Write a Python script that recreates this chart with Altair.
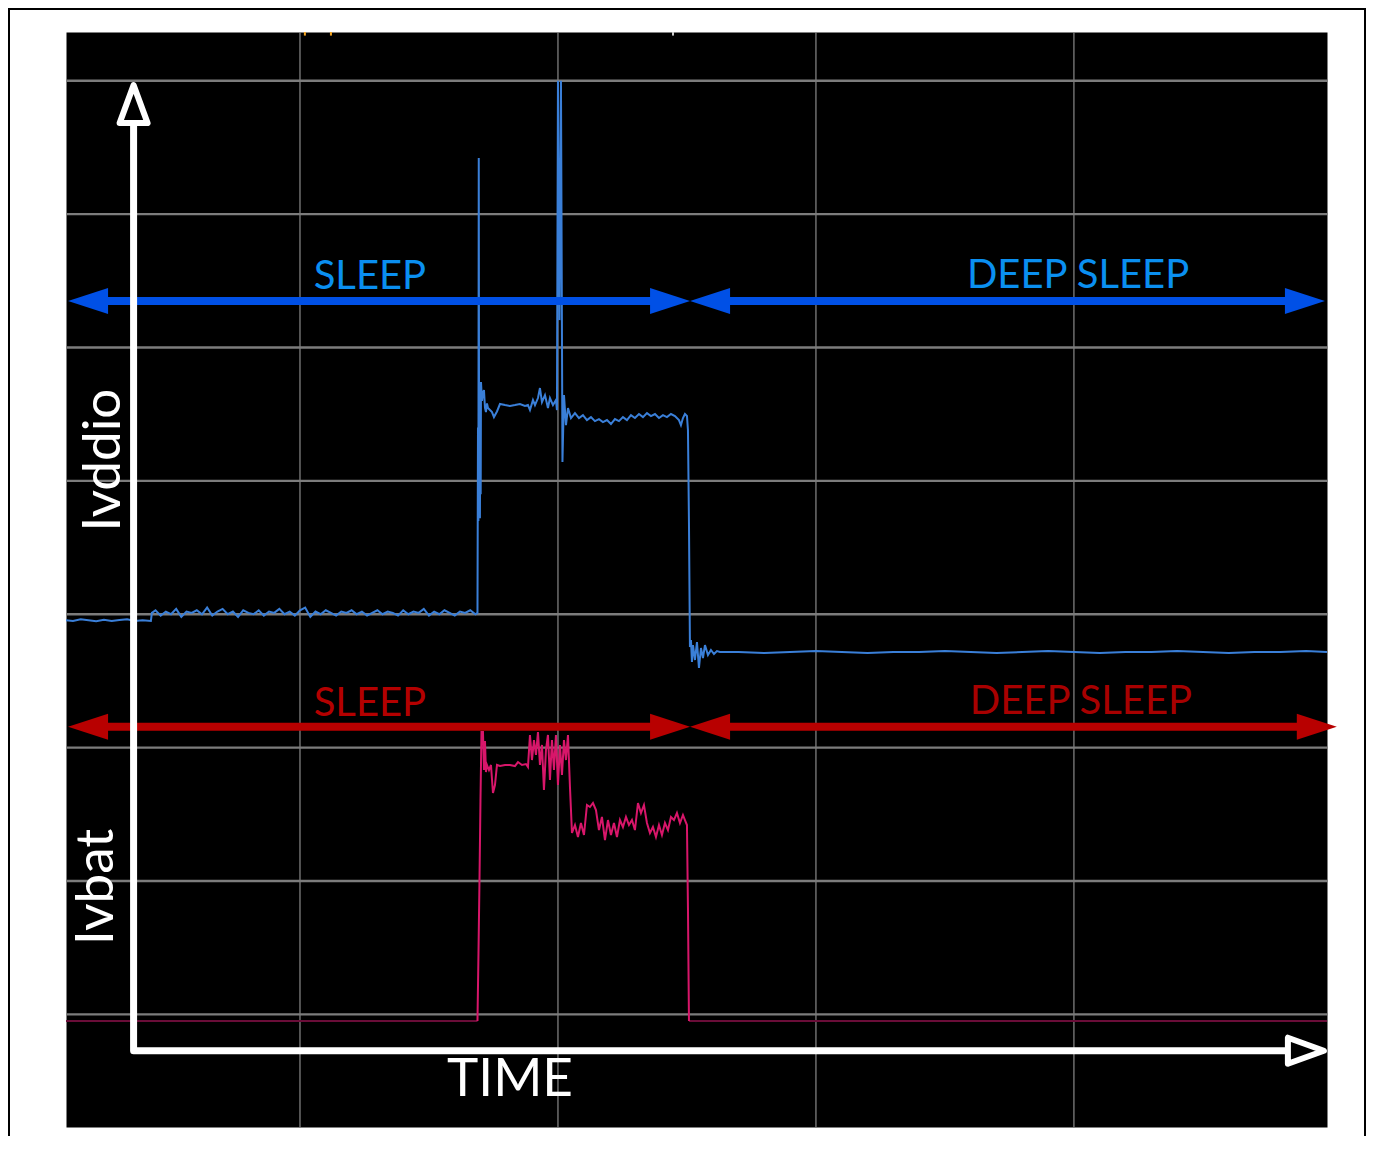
import altair as alt
import pandas as pd

# ---- oscilloscope frame: time and amplitude measured in screen divisions ----
x_domain = [-0.907, 3.981]
y_domain = [-0.844, 7.365]
grid_t = [0, 1, 2, 3]
grid_v = [0, 1, 2, 3, 4, 5, 6, 7]

# ---- Ivddio trace (t, v) ----
ivddio = [
    (-0.907, 2.955), (-0.880, 2.950), (-0.850, 2.962), (-0.820, 2.955), (-0.790, 2.948),
    (-0.760, 2.958), (-0.730, 2.950), (-0.700, 2.956), (-0.670, 2.962), (-0.640, 2.950),
    (-0.610, 2.955), (-0.578, 2.950), (-0.574, 3.010),
    (-0.56, 3.03), (-0.54, 2.99), (-0.52, 3.02), (-0.50, 3.00), (-0.48, 3.04), (-0.46, 2.98),
    (-0.44, 3.02), (-0.42, 3.01), (-0.40, 3.03), (-0.38, 3.00), (-0.36, 3.05), (-0.34, 2.99),
    (-0.32, 3.02), (-0.30, 3.04), (-0.28, 3.00), (-0.26, 3.02), (-0.24, 2.98), (-0.22, 3.03),
    (-0.20, 3.01), (-0.18, 3.00), (-0.16, 3.03), (-0.14, 2.99), (-0.12, 3.02), (-0.10, 3.01),
    (-0.08, 3.04), (-0.06, 3.00), (-0.04, 3.02), (-0.02, 2.99), (0.00, 3.03), (0.02, 3.05),
    (0.04, 2.98), (0.06, 3.02), (0.08, 3.00), (0.10, 3.03), (0.12, 3.01), (0.14, 2.99),
    (0.16, 3.02), (0.18, 3.01), (0.20, 3.03), (0.22, 3.00), (0.24, 3.02), (0.26, 2.99),
    (0.28, 3.01), (0.30, 3.03), (0.32, 3.00), (0.34, 3.02), (0.36, 3.01), (0.38, 2.99),
    (0.40, 3.03), (0.42, 3.00), (0.44, 3.02), (0.46, 3.01), (0.48, 3.04), (0.50, 2.99),
    (0.52, 3.02), (0.54, 3.00), (0.56, 3.03), (0.58, 3.01), (0.60, 2.99), (0.62, 3.02),
    (0.64, 3.01), (0.66, 3.03), (0.68, 3.00), (0.688, 3.01),
    (0.6900, 4.40), (0.6915, 3.70), (0.6930, 6.42), (0.6945, 3.75), (0.6960, 4.35),
    (0.6975, 3.72), (0.6990, 4.50), (0.7005, 3.90), (0.7016, 4.741), (0.7055, 4.60),
    (0.7093, 4.66), (0.7132, 4.68), (0.7170, 4.55), (0.7209, 4.516), (0.7248, 4.58),
    (0.7287, 4.546), (0.7364, 4.531), (0.7442, 4.516), (0.7519, 4.478), (0.7636, 4.52),
    (0.7752, 4.576), (0.7946, 4.568), (0.8140, 4.561), (0.8333, 4.568), (0.8527, 4.576),
    (0.8721, 4.561), (0.8837, 4.568), (0.8915, 4.531), (0.9031, 4.606), (0.9109, 4.568),
    (0.9225, 4.621), (0.9302, 4.696), (0.9380, 4.591), (0.9496, 4.643), (0.9612, 4.546),
    (0.9690, 4.621), (0.9806, 4.568), (0.9922, 4.606), (0.9961, 4.531),
    (1.0000, 7.0), (1.0058, 5.205), (1.0116, 7.0), (1.0174, 4.141), (1.0233, 4.643),
    (1.0310, 4.418), (1.0388, 4.546), (1.0504, 4.471), (1.0659, 4.508), (1.0814, 4.471),
    (1.0969, 4.493), (1.1124, 4.456), (1.1279, 4.478), (1.1434, 4.448), (1.1589, 4.463),
    (1.1744, 4.441), (1.1899, 4.456), (1.2054, 4.426), (1.2209, 4.463), (1.2364, 4.448),
    (1.2519, 4.478), (1.2674, 4.456), (1.2829, 4.493), (1.2984, 4.471), (1.3140, 4.501),
    (1.3295, 4.478), (1.3450, 4.508), (1.3605, 4.486), (1.3760, 4.501), (1.3915, 4.471),
    (1.4070, 4.493), (1.4225, 4.478), (1.4380, 4.501), (1.4535, 4.486), (1.4690, 4.456),
    (1.4767, 4.418), (1.4845, 4.471), (1.4922, 4.501), (1.5000, 4.486), (1.5039, 4.38),
    (1.5078, 3.684), (1.5116, 2.754), (1.5155, 2.807), (1.5194, 2.642), (1.5233, 2.769),
    (1.5310, 2.657), (1.5388, 2.792), (1.5465, 2.597), (1.5543, 2.747), (1.5620, 2.672),
    (1.5698, 2.769), (1.5814, 2.694), (1.5930, 2.732), (1.6047, 2.702), (1.6163, 2.724),
    (1.6279, 2.717), (1.70, 2.717), (1.80, 2.709), (1.90, 2.717), (2.00, 2.724),
    (2.10, 2.717), (2.20, 2.709), (2.30, 2.717), (2.40, 2.717), (2.50, 2.724), (2.60, 2.717),
    (2.70, 2.709), (2.80, 2.717), (2.90, 2.724), (3.00, 2.717), (3.10, 2.709), (3.20, 2.717),
    (3.30, 2.717), (3.40, 2.724), (3.50, 2.717), (3.60, 2.709), (3.70, 2.717), (3.80, 2.717),
    (3.90, 2.724), (3.981, 2.717),
]

# ---- Ivbat trace: active burst (t, v) and idle floor ----
ivbat_active = [
    (0.6880, -0.050), (0.6919, 0.460), (0.6957, 0.993), (0.6996, 1.60), (0.7035, 2.117),
    (0.7093, 2.117), (0.7132, 1.832), (0.7171, 2.05), (0.7209, 1.817), (0.7248, 1.870),
    (0.7326, 1.832), (0.7403, 1.870), (0.7481, 1.660), (0.7558, 1.720), (0.7636, 1.870),
    (0.7752, 1.862), (0.7946, 1.870), (0.8140, 1.870), (0.8333, 1.862), (0.8450, 1.892),
    (0.8605, 1.870), (0.8760, 1.877), (0.8837, 1.855), (0.8915, 2.095), (0.8992, 1.907),
    (0.9070, 2.057), (0.9147, 1.945), (0.9225, 2.117), (0.9302, 1.870), (0.9380, 2.020),
    (0.9457, 1.682), (0.9535, 1.982), (0.9612, 2.095), (0.9690, 1.757), (0.9767, 2.057),
    (0.9845, 1.832), (0.9922, 2.095), (1.0000, 1.720), (1.0078, 2.020), (1.0155, 1.795),
    (1.0233, 2.057), (1.0310, 1.907), (1.0388, 2.095), (1.0465, 1.705), (1.0543, 1.360),
    (1.0659, 1.420), (1.0775, 1.330), (1.0891, 1.435), (1.1008, 1.345), (1.1124, 1.570),
    (1.1240, 1.555), (1.1357, 1.585), (1.1473, 1.532), (1.1589, 1.382), (1.1705, 1.480),
    (1.1822, 1.307), (1.1938, 1.457), (1.2054, 1.345), (1.2171, 1.435), (1.2287, 1.330),
    (1.2403, 1.457), (1.2519, 1.405), (1.2636, 1.480), (1.2752, 1.420), (1.2868, 1.457),
    (1.2984, 1.382), (1.3101, 1.585), (1.3217, 1.510), (1.3333, 1.570), (1.3450, 1.435),
    (1.3566, 1.360), (1.3682, 1.405), (1.3798, 1.330), (1.3915, 1.420), (1.4031, 1.345),
    (1.4147, 1.435), (1.4264, 1.382), (1.4380, 1.480), (1.4496, 1.457), (1.4612, 1.510),
    (1.4729, 1.435), (1.4845, 1.495), (1.4922, 1.457), (1.5000, 1.420), (1.5039, 0.80),
    (1.5078, -0.050),
]
ivbat_idle = [
    ("before", -0.907, -0.050), ("before", 0.688, -0.050),
    ("after", 1.5078, -0.050), ("after", 3.981, -0.050),
]

# ---- state annotations ----
state_label = ["SLEEP", "DEEP SLEEP", "SLEEP", "DEEP SLEEP"]
state_start = [-0.899, 1.512, -0.899, 1.512]
state_end = [1.512, 3.973, 1.512, 4.019]
state_level = [5.349, 5.349, 2.156, 2.156]
state_label_t = [0.271, 3.016, 0.271, 3.027]
state_label_v = [5.438, 5.445, 2.238, 2.253]
state_arrow_color = ["#0050e6", "#0050e6", "#b80000", "#b80000"]
state_text_color = ["#0a8ff0", "#0a8ff0", "#b40000", "#a80000"]

# ---- drawn axes (time / current) ----
axis_corner_t = -0.645
axis_corner_v = -0.272
axis_top_v = 6.967
axis_right_t = 3.969
axis_titles = ["Ivddio", "Ivbat"]
axis_title_t = [-0.698, -0.725]
axis_title_v = [4.156, 0.956]
time_title = "TIME"
time_title_t = 0.814
time_title_v = -0.612

# ---- tiny trigger markers at top of the screen ----
marker_t = [0.019, 0.120, 1.446]
marker_color = ["#f5a623", "#f5a623", "#cfcfcf"]

# ------------------------------------------------------------------
HEAD_DIV = 0.155          # arrowhead length in time divisions (40 px)
LEFT_HEAD = "M0,0L40,-13L40,13Z"
RIGHT_HEAD = "M0,0L-40,-13L-40,13Z"
UP_OPEN = "M0,0L14,38L-14,38Z"
RIGHT_OPEN = "M0,0L-36,-13L-36,13Z"

xs = alt.Scale(domain=x_domain, nice=False, zero=False)
ys = alt.Scale(domain=y_domain, nice=False, zero=False)


def X(f):
    return alt.X(f"{f}:Q", scale=xs, axis=None)


def Y(f):
    return alt.Y(f"{f}:Q", scale=ys, axis=None)


grid_x = alt.Chart(pd.DataFrame({"t": grid_t})).mark_rule(
    color="#8a8a8a", strokeWidth=1.2).encode(x=X("t"))
grid_y = alt.Chart(pd.DataFrame({"v": grid_v})).mark_rule(
    color="#7c7c7c", strokeWidth=2.4).encode(y=Y("v"))

markers = alt.Chart(pd.DataFrame({"t": marker_t, "c": marker_color,
                                  "v1": [y_domain[1]] * 3, "v2": [7.338] * 3})).mark_rule(
    strokeWidth=2).encode(x=X("t"), y=Y("v1"), y2="v2:Q",
                          color=alt.Color("c:N", scale=None))

d_vdd = pd.DataFrame(ivddio, columns=["t", "v"]).reset_index().rename(columns={"index": "i"})
vdd_line = alt.Chart(d_vdd).mark_line(color="#3a7fd8", strokeWidth=2).encode(
    x=X("t"), y=Y("v"), order="i:Q")

d_bat = pd.DataFrame(ivbat_active, columns=["t", "v"]).reset_index().rename(columns={"index": "i"})
bat_line = alt.Chart(d_bat).mark_line(color="#d8166a", strokeWidth=2).encode(
    x=X("t"), y=Y("v"), order="i:Q")
d_idle = pd.DataFrame(ivbat_idle, columns=["seg", "t", "v"])
idle_line = alt.Chart(d_idle).mark_line(color="#6a0d38", strokeWidth=2).encode(
    x=X("t"), y=Y("v"), detail="seg:N")

d_state = pd.DataFrame({
    "label": state_label, "start": state_start, "end": state_end, "v": state_level,
    "lt": state_label_t, "lv": state_label_v,
    "ac": state_arrow_color, "tc": state_text_color,
})
d_state["s1"] = d_state["start"] + HEAD_DIV * 0.9
d_state["s2"] = d_state["end"] - HEAD_DIV * 0.9
shafts = alt.Chart(d_state).mark_rule(strokeWidth=8).encode(
    x=X("s1"), x2="s2:Q", y=Y("v"), color=alt.Color("ac:N", scale=None))

heads = pd.concat([
    pd.DataFrame({"t": d_state["start"], "v": d_state["v"], "shape": LEFT_HEAD, "c": d_state["ac"]}),
    pd.DataFrame({"t": d_state["end"], "v": d_state["v"], "shape": RIGHT_HEAD, "c": d_state["ac"]}),
], ignore_index=True)
head_marks = alt.Chart(heads).mark_point(filled=True, opacity=1, size=4, strokeWidth=0).encode(
    x=X("t"), y=Y("v"), shape=alt.Shape("shape:N", scale=None),
    color=alt.Color("c:N", scale=None))

state_text = alt.Chart(d_state).mark_text(
    font="Lato", fontSize=40, align="center", baseline="alphabetic").encode(
    x=X("lt"), y=Y("lv"), text="label:N", color=alt.Color("tc:N", scale=None))

# white drawn axes
d_axis = pd.DataFrame({
    "i": [0, 1, 2],
    "t": [axis_corner_t, axis_corner_t, axis_right_t - 0.14],
    "v": [axis_top_v - 0.285, axis_corner_v, axis_corner_v],
})
axis_line = alt.Chart(d_axis).mark_line(
    color="white", strokeWidth=7, strokeJoin="round", strokeCap="butt").encode(
    x=X("t"), y=Y("v"), order="i:Q")
d_axhead = pd.DataFrame({
    "t": [axis_corner_t, axis_right_t],
    "v": [axis_top_v, axis_corner_v],
    "shape": [UP_OPEN, RIGHT_OPEN],
})
axis_heads = alt.Chart(d_axhead).mark_point(
    filled=True, fill="black", stroke="white", strokeWidth=6, strokeJoin="round",
    opacity=1, size=4).encode(
    x=X("t"), y=Y("v"), shape=alt.Shape("shape:N", scale=None))

axis_text = alt.Chart(pd.DataFrame({"label": axis_titles, "t": axis_title_t,
                                    "v": axis_title_v})).mark_text(
    font="Lato", fontSize=53, angle=270, align="center", baseline="alphabetic",
    color="white").encode(x=X("t"), y=Y("v"), text="label:N")
time_text = alt.Chart(pd.DataFrame({"label": [time_title], "t": [time_title_t],
                                    "v": [time_title_v]})).mark_text(
    font="Lato", fontSize=53, align="center", baseline="alphabetic",
    color="white").encode(x=X("t"), y=Y("v"), text="label:N")

frame = alt.Chart(pd.DataFrame({"a": [0]})).mark_rect(
    fillOpacity=0, stroke="black", strokeWidth=2).encode(
    x=alt.value(-57), x2=alt.value(1299), y=alt.value(-23), y2=alt.value(1120))

chart = alt.layer(
    grid_x, grid_y, markers, idle_line, vdd_line, bat_line,
    shafts, head_marks, state_text, axis_line, axis_heads, axis_text, time_text, frame,
).properties(
    width=1261, height=1095,
    autosize=alt.AutoSizeParams(type="none"),
    padding={"left": 58, "top": 24, "right": 39, "bottom": 9},
    background="white",
).configure_view(fill="black", strokeOpacity=0)

chart.save("out.html", embed_options={"renderer": "svg", "actions": False})
